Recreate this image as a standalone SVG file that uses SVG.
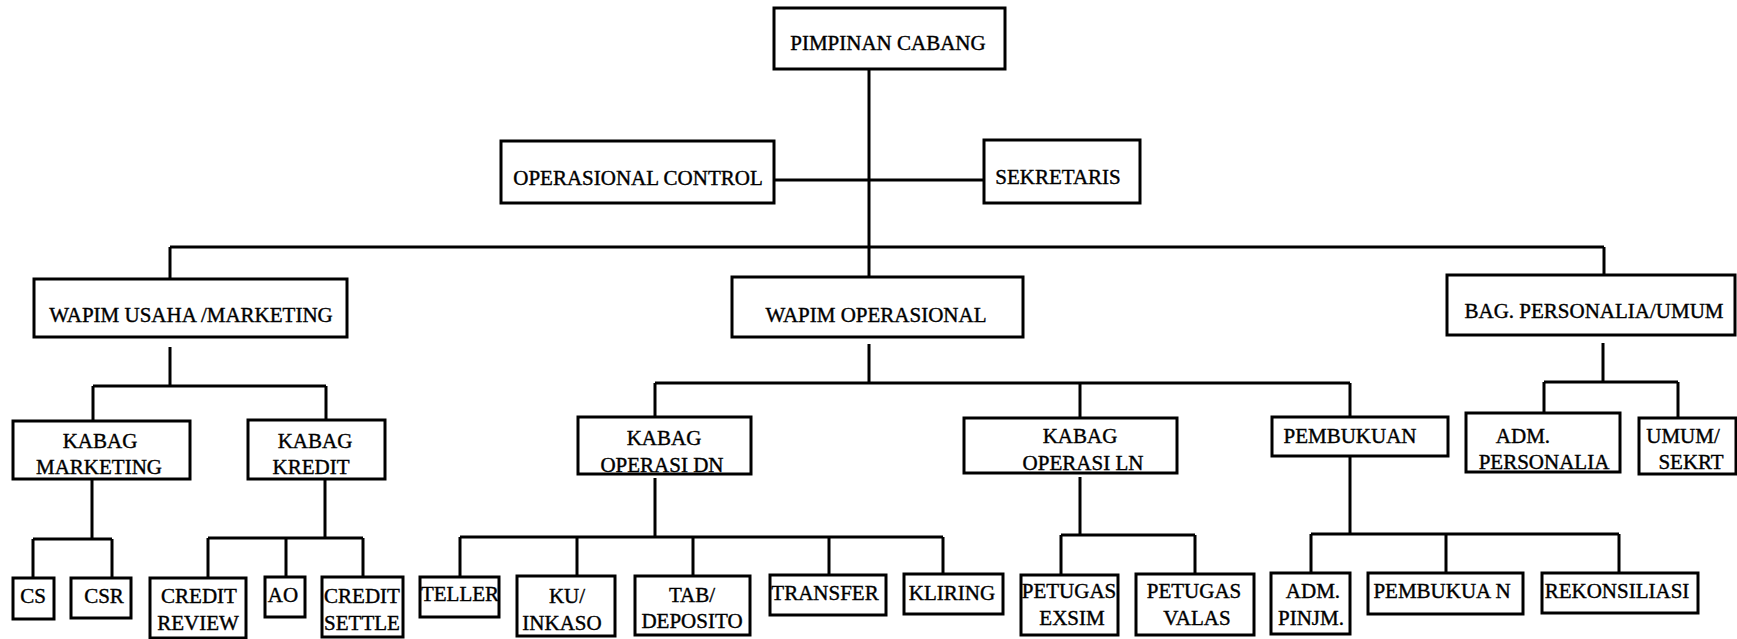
<svg xmlns="http://www.w3.org/2000/svg" width="1737" height="639" viewBox="0 0 1737 639">
<style>
.box{fill:#fff;stroke:#000;stroke-width:3}
.ln{stroke:#000;stroke-width:3;fill:none}
text{font-family:"Liberation Serif","Times New Roman",serif;font-size:21px;fill:#000;stroke:#000;stroke-width:0.4;text-anchor:middle}
</style>
<rect width="1737" height="639" fill="#fff"/>
<g id="connectors" class="ln">
<path d="M869 69V277"/>
<path d="M774 180H984"/>
<path d="M170 247H1604M170 247V279M1604 247V275"/>
<path d="M170 347V386M93 386H326M93 386V421M326 386V420"/>
<path d="M869 344V383M655 383H1350M655 383V417M1080 383V418M1350 383V417"/>
<path d="M1603 343V382M1544 382H1678M1544 382V413M1678 382V418"/>
<path d="M92 479V539M33 539H112M33 539V578M112 539V578"/>
<path d="M325 479V538M208 538H363M208 538V578M286 538V577M363 538V577"/>
<path d="M655 478V537M460 537H943M460 537V577M577 537V576M693 537V576M829 537V575M943 537V574"/>
<path d="M1080 477V535M1061 535H1195M1061 535V575M1195 535V574"/>
<path d="M1350 456V534M1311 534H1619M1311 534V573M1446 534V573M1619 534V573"/>
</g>
<g id="pimpinan"><rect class="box" x="774" y="8" width="231" height="61"/><text x="888" y="50">PIMPINAN CABANG</text></g>
<g id="opcontrol"><rect class="box" x="501" y="141" width="273" height="62"/><text x="638" y="185">OPERASIONAL CONTROL</text></g>
<g id="sekretaris"><rect class="box" x="984" y="140" width="156" height="63"/><text x="1058" y="184">SEKRETARIS</text></g>
<g id="wapim-usaha"><rect class="box" x="34" y="279" width="313" height="58"/><text x="191" y="322">WAPIM USAHA /MARKETING</text></g>
<g id="wapim-op"><rect class="box" x="732" y="277" width="291" height="60"/><text x="876" y="322">WAPIM OPERASIONAL</text></g>
<g id="bag-personalia"><rect class="box" x="1447" y="275" width="288" height="60"/><text x="1594" y="318">BAG. PERSONALIA/UMUM</text></g>
<g id="kabag-marketing"><rect class="box" x="13" y="421" width="177" height="58"/><text x="100" y="448">KABAG</text><text x="99" y="474">MARKETING</text></g>
<g id="kabag-kredit"><rect class="box" x="248" y="420" width="137" height="59"/><text x="315" y="448">KABAG</text><text x="311" y="474">KREDIT</text></g>
<g id="kabag-dn"><rect class="box" x="578" y="417" width="173" height="57"/><text x="664" y="445">KABAG</text><text x="662" y="472">OPERASI DN</text></g>
<g id="kabag-ln"><rect class="box" x="964" y="418" width="213" height="55"/><text x="1080" y="443">KABAG</text><text x="1083" y="470">OPERASI LN</text></g>
<g id="pembukuan"><rect class="box" x="1272" y="417" width="176" height="39"/><text x="1350" y="443">PEMBUKUAN</text></g>
<g id="adm-personalia"><rect class="box" x="1466" y="413" width="154" height="59"/><text x="1523" y="443">ADM.</text><text x="1544" y="469">PERSONALIA</text></g>
<g id="umum-sekrt"><rect class="box" x="1639" y="418" width="97" height="56"/><text x="1683" y="443">UMUM/</text><text x="1691" y="469">SEKRT</text></g>
<g id="cs"><rect class="box" x="13" y="578" width="41" height="41"/><text x="33" y="603">CS</text></g>
<g id="csr"><rect class="box" x="71" y="578" width="60" height="40"/><text x="104" y="603">CSR</text></g>
<g id="credit-review"><rect class="box" x="150" y="578" width="96" height="60"/><text x="199" y="603">CREDIT</text><text x="198" y="630">REVIEW</text></g>
<g id="ao"><rect class="box" x="265" y="577" width="40" height="40"/><text x="283" y="602">AO</text></g>
<g id="credit-settle"><rect class="box" x="322" y="577" width="81" height="60"/><text x="362" y="603">CREDIT</text><text x="362" y="630">SETTLE</text></g>
<g id="teller"><rect class="box" x="420" y="577" width="79" height="40"/><text x="460" y="601">TELLER</text></g>
<g id="ku-inkaso"><rect class="box" x="517" y="576" width="98" height="60"/><text x="567" y="603">KU/</text><text x="562" y="630">INKASO</text></g>
<g id="tab-deposito"><rect class="box" x="635" y="576" width="115" height="59"/><text x="692" y="602">TAB/</text><text x="692" y="628">DEPOSITO</text></g>
<g id="transfer"><rect class="box" x="770" y="575" width="116" height="40"/><text x="825" y="600">TRANSFER</text></g>
<g id="kliring"><rect class="box" x="904" y="574" width="99" height="40"/><text x="952" y="600">KLIRING</text></g>
<g id="petugas-exsim"><rect class="box" x="1021" y="575" width="97" height="60"/><text x="1069" y="598">PETUGAS</text><text x="1072" y="625">EXSIM</text></g>
<g id="petugas-valas"><rect class="box" x="1136" y="574" width="118" height="61"/><text x="1194" y="598">PETUGAS</text><text x="1197" y="625">VALAS</text></g>
<g id="adm-pinjm"><rect class="box" x="1271" y="573" width="79" height="61"/><text x="1313" y="598">ADM.</text><text x="1311" y="625">PINJM.</text></g>
<g id="pembukuan2"><rect class="box" x="1368" y="573" width="155" height="41"/><text x="1442" y="598">PEMBUKUA N</text></g>
<g id="rekonsiliasi"><rect class="box" x="1542" y="573" width="156" height="40"/><text x="1617" y="598">REKONSILIASI</text></g>
</svg>
